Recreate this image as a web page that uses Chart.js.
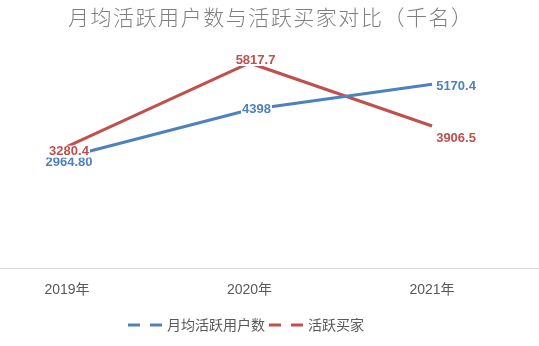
<!DOCTYPE html>
<html>
<head>
<meta charset="utf-8">
<script src="https://cdn.jsdelivr.net/npm/chart.js@4/dist/chart.umd.min.js"></script>
<style>
  html, body { margin: 0; padding: 0; background: #fff; }
  #wrap { width: 539px; height: 346px; }
</style>
</head>
<body>
<div id="wrap"><canvas id="chart"></canvas></div>
<script>
const years = ['2019年', '2020年', '2021年'];
const activeUsers = [2964.8, 4398, 5170.4];
const activeBuyers = [3280.4, 5817.7, 3906.5];
const userLabels = ['2964.80', '4398', '5170.4'];
const buyerLabels = ['3280.4', '5817.7', '3906.5'];
const chartTitle = '月均活跃用户数与活跃买家对比（千名）';

const BLUE = '#4f81bd';
const RED = '#c0504d';
const CJK = '"Noto Sans CJK SC", "Noto Sans", sans-serif';

// label offsets from each point, px
const labelOffsets = [
  [[2, 5], [7, 0], [24, 2]],
  [[2, 5], [6, -3], [24, 12]]
];

const toPoints = arr => arr.map((v, i) => ({ x: i, y: v }));

const extras = {
  id: 'extras',
  afterDatasetsDraw(chart) {
    const ctx = chart.ctx;
    ctx.save();
    // value labels with white backing
    ctx.font = 'bold 13px "Liberation Sans", Arial, sans-serif';
    ctx.textAlign = 'center';
    ctx.textBaseline = 'middle';
    chart.data.datasets.forEach((ds, di) => {
      const meta = chart.getDatasetMeta(di);
      meta.data.forEach((pt, i) => {
        const [dx, dy] = labelOffsets[di][i];
        const x = pt.x + dx, y = pt.y + dy;
        const text = ds.valueLabels[i];
        const w = ctx.measureText(text).width;
        ctx.fillStyle = '#fff';
        ctx.fillRect(x - w / 2 - 1, y - 6, w + 2, 12);
        ctx.fillStyle = ds.borderColor;
        ctx.fillText(text, x, y);
      });
    });
    ctx.restore();
  },
  afterDraw(chart) {
    const ctx = chart.ctx;
    ctx.save();
    // title, spaced out to a fixed width
    ctx.font = '300 21px ' + CJK;
    ctx.fillStyle = '#7f7f7f';
    ctx.textAlign = 'left';
    ctx.textBaseline = 'middle';
    ctx.letterSpacing = '0px';
    const plain = ctx.measureText(chartTitle).width;
    const n = [...chartTitle].length;
    const gap = Math.max(0, (404 - plain) / (n - 1));
    ctx.letterSpacing = gap + 'px';
    ctx.fillText(chartTitle, 68, 17);
    ctx.letterSpacing = '0px';

    // legend
    ctx.font = '14px ' + CJK;
    let x = 128;
    const y = 325;
    chart.data.datasets.forEach(ds => {
      ctx.strokeStyle = ds.borderColor;
      ctx.lineWidth = 3;
      ctx.setLineDash([12, 10]);
      ctx.beginPath();
      ctx.moveTo(x, y);
      ctx.lineTo(x + 35, y);
      ctx.stroke();
      ctx.setLineDash([]);
      ctx.fillStyle = '#595959';
      ctx.fillText(ds.label, x + 39, y);
      x += 39 + ctx.measureText(ds.label).width + 4;
    });
    ctx.restore();
  }
};

new Chart(document.getElementById('chart'), {
  type: 'line',
  data: {
    datasets: [
      {
        label: '月均活跃用户数',
        data: toPoints(activeUsers),
        valueLabels: userLabels,
        borderColor: BLUE,
        borderWidth: 3,
        pointRadius: 0,
        tension: 0
      },
      {
        label: '活跃买家',
        data: toPoints(activeBuyers),
        valueLabels: buyerLabels,
        borderColor: RED,
        borderWidth: 3,
        pointRadius: 0,
        tension: 0
      }
    ]
  },
  options: {
    responsive: true,
    maintainAspectRatio: false,
    animation: false,
    layout: { padding: { top: 24, left: 0, right: 0, bottom: 0 } },
    plugins: {
      legend: { display: false },
      title: { display: false },
      tooltip: { enabled: false }
    },
    scales: {
      x: {
        type: 'linear',
        min: -0.367,
        max: 2.586,
        afterBuildTicks: scale => {
          scale.ticks = years.map((_, i) => ({ value: i }));
        },
        afterFit: scale => { scale.height = 78; },
        grid: { display: false, drawTicks: false },
        border: { display: true, color: '#d9d9d9', width: 1 },
        ticks: {
          padding: 14,
          color: '#595959',
          font: { size: 14, family: '"Liberation Sans", ' + CJK },
          callback: v => years[v],
          maxRotation: 0,
          autoSkip: false
        }
      },
      y: {
        display: false,
        min: -400,
        max: 7000
      }
    }
  },
  plugins: [extras]
});
</script>
</body>
</html>
